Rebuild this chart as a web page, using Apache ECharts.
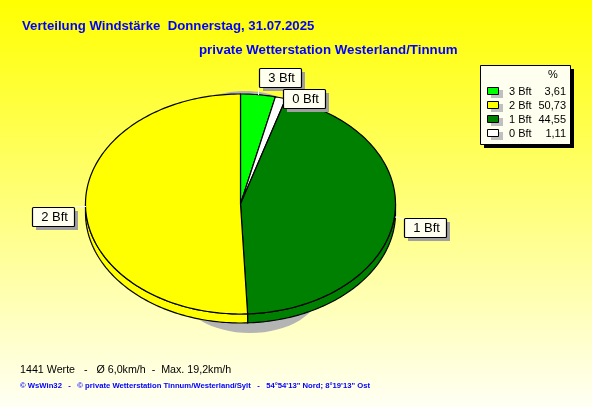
<!DOCTYPE html>
<html><head><meta charset="utf-8">
<style>html,body{margin:0;padding:0;background:#fff}#c{width:592px;height:407px}</style>
<script src="https://cdn.jsdelivr.net/npm/echarts@6/dist/echarts.min.js"></script>
</head><body><div id="c"></div>
<script>
var categories = ['3 Bft', '0 Bft', '1 Bft', '2 Bft'];
var values = [3.61, 1.11, 44.55, 50.73];
var sliceColors = ['#00FF00', '#FFFFFF', '#008000', '#FFFF00'];
var legendOrder = ['3 Bft', '2 Bft', '1 Bft', '0 Bft'];
var legendValues = ['3,61', '50,73', '44,55', '1,11'];
var legendColors = ['#00FF00', '#FFFF00', '#008000', '#FFFFFF'];
var titleLine1 = 'Verteilung Windstärke  Donnerstag, 31.07.2025';
var titleLine2 = 'private Wetterstation Westerland/Tinnum';
var statsLine = '1441 Werte   -   Ø 6,0km/h  -  Max. 19,2km/h';
var footerLine = '© WsWin32   -   © private Wetterstation Tinnum/Westerland/Sylt   -   54°54\'13" Nord; 8°19\'13" Ost';

var CX = 240.5, CY = 204, RX = 155, RY = 110, DEPTH = 9;
var FONT = '"Liberation Sans", Arial, sans-serif';
var total = values.reduce(function (a, b) { return a + b; }, 0);

function pt(a, dy) { return [CX + RX * Math.sin(a), CY - RY * Math.cos(a) + (dy || 0)]; }
function arc(a0, a1, dy) {
  var n = Math.max(2, Math.ceil((a1 - a0) / 0.02)), out = [];
  for (var i = 0; i <= n; i++) out.push(pt(a0 + (a1 - a0) * i / n, dy));
  return out;
}
function labelBox(text, x, y, w) {
  return [
    { type: 'rect', shape: { x: x + 4, y: y + 4, width: w, height: 19 }, style: { fill: '#A0A0A0' }, silent: true, z: 20 },
    { type: 'rect', shape: { x: x + 0.5, y: y + 0.5, width: w, height: 19, r: 1 }, style: { fill: '#FFFFF0', stroke: '#000', lineWidth: 1.2 }, silent: true, z: 21 },
    { type: 'text', x: x + w / 2 + 1.5, y: y + 10.5, style: { text: text, font: '13px ' + FONT, fill: '#000', align: 'center', verticalAlign: 'middle' }, silent: true, z: 22 }
  ];
}

var starts = [], acc = 0;
values.forEach(function (v) { starts.push(acc); acc += v; });

function renderSlice(params, api) {
  var i = params.dataIndex, v = api.value(1), s = api.value(2);
  var a0 = s / total * 2 * Math.PI, a1 = (s + v) / total * 2 * Math.PI;
  var children = [];
  var lo = Math.max(a0, Math.PI / 2), hi = Math.min(a1, Math.PI * 1.5);
  if (hi > lo) {
    children.push({ type: 'polygon', shape: { points: arc(lo, hi, 0).concat(arc(lo, hi, DEPTH).reverse()) },
      style: { fill: api.visual('color'), stroke: '#000', lineWidth: 1.2 }, z2: 1 });
  }
  children.push({ type: 'polygon', shape: { points: [[CX, CY]].concat(arc(a0, a1, 0)) },
    style: { fill: api.visual('color'), stroke: '#000', lineWidth: 1.2 }, z2: 2 });
  return { type: 'group', children: children };
}

var graphics = [];
graphics.push({ type: 'ellipse', shape: { cx: 250, cy: 290, rx: 70, ry: 43 }, style: { fill: '#B4B4B4' }, z: 1 });
graphics.push({ type: 'ellipse', shape: { cx: 245, cy: 110, rx: 45, ry: 19 }, style: { fill: '#B4B4B4' }, z: 1 });
graphics.push({ type: 'text', x: 22, y: 19.5, style: { text: titleLine1, font: 'bold 13.2px ' + FONT, fill: '#0000FF' }, z: 5 });
graphics.push({ type: 'text', x: 199, y: 43.5, style: { text: titleLine2, font: 'bold 13.3px ' + FONT, fill: '#0000FF' }, z: 5 });
graphics.push({ type: 'text', x: 20, y: 365, style: { text: statsLine, font: '10.7px ' + FONT, fill: '#000' }, z: 5 });
graphics.push({ type: 'text', x: 20, y: 382, style: { text: footerLine, font: 'bold 7.7px ' + FONT, fill: '#0000FF' }, z: 5 });

graphics.push({ type: 'line', shape: { x1: 258.5, y1: 88, x2: 258.5, y2: 95 }, style: { stroke: '#fff', lineWidth: 1 }, z: 15 });
graphics.push({ type: 'line', shape: { x1: 395, y1: 217, x2: 405, y2: 219 }, style: { stroke: '#fff', lineWidth: 1 }, z: 15 });
graphics.push({ type: 'line', shape: { x1: 75, y1: 206.5, x2: 86, y2: 206.5 }, style: { stroke: '#fff', lineWidth: 1 }, z: 15 });
graphics = graphics.concat(labelBox('3 Bft', 259, 68, 42), labelBox('0 Bft', 283, 89, 42), labelBox('1 Bft', 404, 218, 42), labelBox('2 Bft', 32, 207, 42));

// legend box
graphics.push({ type: 'rect', shape: { x: 484, y: 69, width: 90, height: 79 }, style: { fill: '#000' }, z: 5 });
graphics.push({ type: 'rect', shape: { x: 480.5, y: 65.5, width: 90, height: 79 }, style: { fill: '#FFFFF0', stroke: '#000', lineWidth: 1 }, z: 6 });
graphics.push({ type: 'text', x: 553, y: 75, style: { text: '%', font: '11px ' + FONT, fill: '#000', align: 'center', verticalAlign: 'middle' }, z: 7 });
legendOrder.forEach(function (name, i) {
  var y = 87 + i * 14;
  graphics.push({ type: 'rect', shape: { x: 491, y: y + 3, width: 12, height: 8 }, style: { fill: '#C0C0C0' }, z: 7 });
  graphics.push({ type: 'rect', shape: { x: 487.5, y: y + 0.5, width: 11, height: 7 }, style: { fill: legendColors[i], stroke: '#000', lineWidth: 1 }, z: 8 });
  graphics.push({ type: 'text', x: 509, y: y + 4.5, style: { text: name, font: '11px ' + FONT, fill: '#000', verticalAlign: 'middle' }, z: 8 });
  graphics.push({ type: 'text', x: 566, y: y + 4.5, style: { text: legendValues[i], font: '11px ' + FONT, fill: '#000', align: 'right', verticalAlign: 'middle' }, z: 8 });
});

var chart = echarts.init(document.getElementById('c'), null, { renderer: 'canvas' });
chart.setOption({
  animation: false,
  backgroundColor: { type: 'linear', x: 0, y: 0, x2: 0, y2: 1, colorStops: [{ offset: 0, color: '#FFFF00' }, { offset: 1, color: '#FFFFF4' }] },
  graphic: { elements: graphics },
  series: [{
    type: 'custom',
    renderItem: renderSlice,
    coordinateSystem: 'none',
    z: 3,
    encode: { value: [1, 2] },
    data: categories.map(function (c, i) {
      return { name: c, value: [i, values[i], starts[i]], itemStyle: { color: sliceColors[i] } };
    }),
    silent: true
  }]
});
</script></body></html>
